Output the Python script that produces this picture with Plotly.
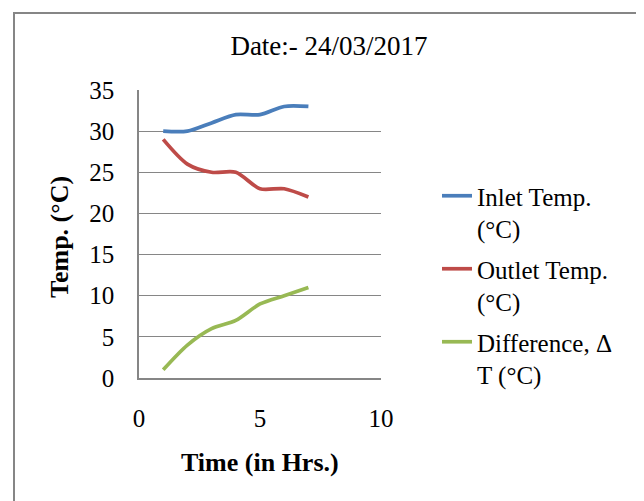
import plotly.graph_objects as go

time_hrs = [1, 2, 3, 4, 5, 6, 7]
inlet_temp = [30, 30, 31, 32, 32, 33, 33]
outlet_temp = [29, 26, 25, 25, 23, 23, 22]
difference = [1, 4, 6, 7, 9, 10, 11]

series_names = ["Inlet Temp.<br>(°C)", "Outlet Temp.<br>(°C)", "Difference, Δ<br>T (°C)"]
series_values = [inlet_temp, outlet_temp, difference]
series_colors = ["#4A7EBB", "#BE4B48", "#98B954"]

FONT = "Liberation Serif"

# page has an 8px body margin: work in page pixels and convert
OFF = 8
W, H = 644 - OFF, 501 - OFF
L, R, T, B = 139 - OFF, 381 - OFF, 90 - OFF, 378 - OFF
pw, ph = R - L, B - T

def px_x(p):  # page px -> paper x
    return (p - OFF - L) / pw

def px_y(p):  # page px -> paper y
    return (B - (p - OFF)) / ph

fig = go.Figure()
for i, (name, vals, col) in enumerate(zip(series_names, series_values, series_colors)):
    fig.add_trace(go.Scatter(
        x=time_hrs, y=vals, name=name, mode="lines", legendgroup=f"g{i}",
        line=dict(color=col, width=3.7, shape="spline", smoothing=0.8),
    ))

fig.update_layout(
    width=W, height=H,
    margin=dict(l=L, r=W - R, t=T, b=H - B),
    paper_bgcolor="white", plot_bgcolor="white",
    font=dict(family=FONT, color="black"),
    title=dict(text="Date:- 24/03/2017", x=(329 - OFF) / W, xanchor="center",
               y=1 - (46 - OFF) / H, yanchor="middle",
               font=dict(family=FONT, size=27, color="black")),
    showlegend=True,
    legend=dict(x=px_x(437), xanchor="left", y=px_y(173), yanchor="top",
                valign="top", tracegroupgap=5,
                font=dict(family=FONT, size=25, color="black"),
                bgcolor="rgba(0,0,0,0)", itemwidth=30),
    xaxis=dict(range=[0, 10], tickvals=[0, 5, 10], showgrid=False,
               showline=True, linecolor="#868686", linewidth=1.5,
               ticks="", ticklen=0, zeroline=False,
               ticklabelstandoff=17,
               tickfont=dict(family=FONT, size=25, color="black")),
    yaxis=dict(range=[0, 35], dtick=5, showgrid=True, gridcolor="#868686",
               gridwidth=1.2, showline=True, linecolor="#868686", linewidth=1.5,
               ticks="", ticklen=0, zeroline=False,
               ticklabelstandoff=18,
               tickfont=dict(family=FONT, size=25, color="black")),
)

fig.add_annotation(text="<b>Time (in Hrs.)</b>", xref="paper", yref="paper",
                   x=px_x(260), y=px_y(462), xanchor="center", yanchor="middle",
                   showarrow=False, font=dict(family=FONT, size=26, color="black"))
fig.add_annotation(text="<b>Temp. (°C)</b>", xref="paper", yref="paper",
                   x=px_x(59), y=px_y(237), xanchor="center", yanchor="middle",
                   textangle=-90, showarrow=False,
                   font=dict(family=FONT, size=26, color="black"))

fig.add_shape(type="rect", xref="paper", yref="paper",
              x0=px_x(14), x1=px_x(642), y0=px_y(520), y1=px_y(13),
              line=dict(color="#868686", width=2), fillcolor="rgba(0,0,0,0)",
              layer="below")

fig.write_html("out.html")
